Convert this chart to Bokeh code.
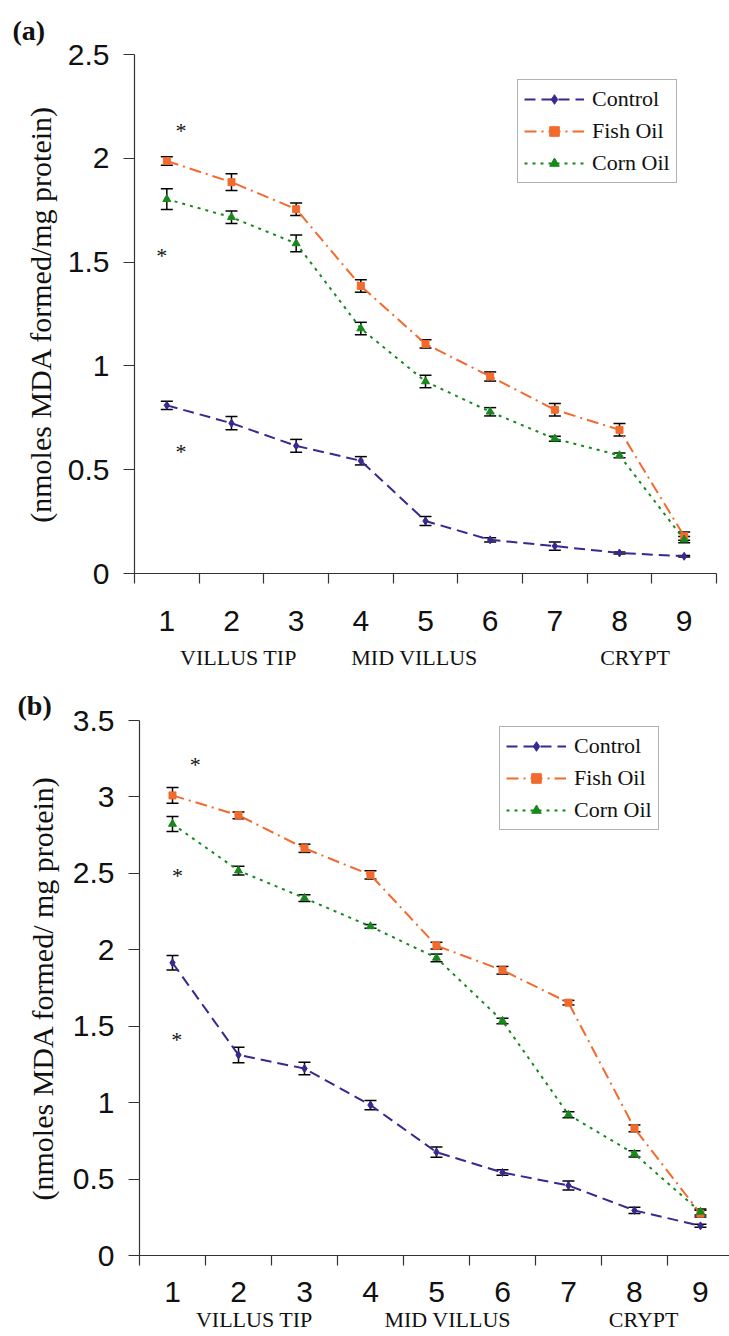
from bokeh.plotting import figure
from bokeh.models import (ColumnDataSource, Whisker, TeeHead, Label, Range1d,
                          FixedTicker, NumeralTickFormatter, Legend, LinearAxis)
from bokeh.embed import file_html
from bokeh.resources import INLINE

# ---------------- data ----------------
positions = [1, 2, 3, 4, 5, 6, 7, 8, 9]
series_names = ["Control", "Fish Oil", "Corn Oil"]

# panel (a)
a_control = [0.81, 0.724, 0.615, 0.543, 0.253, 0.162, 0.132, 0.099, 0.083]
a_control_err = [0.02, 0.032, 0.031, 0.02, 0.022, 0.01, 0.02, 0.005, 0.004]
a_fish = [1.987, 1.885, 1.755, 1.385, 1.106, 0.949, 0.789, 0.692, 0.18]
a_fish_err = [0.02, 0.04, 0.03, 0.03, 0.02, 0.022, 0.03, 0.03, 0.02]
a_corn = [1.803, 1.716, 1.59, 1.18, 0.925, 0.779, 0.649, 0.569, 0.163]
a_corn_err = [0.05, 0.03, 0.04, 0.03, 0.03, 0.02, 0.012, 0.012, 0.015]

# panel (b)
b_control = [1.915, 1.312, 1.223, 0.984, 0.676, 0.543, 0.458, 0.295, 0.194]
b_control_err = [0.048, 0.051, 0.041, 0.03, 0.033, 0.018, 0.03, 0.02, 0.01]
b_fish = [3.01, 2.88, 2.664, 2.49, 2.027, 1.866, 1.654, 0.832, 0.274]
b_fish_err = [0.052, 0.022, 0.027, 0.027, 0.022, 0.025, 0.015, 0.022, 0.022]
b_corn = [2.823, 2.518, 2.338, 2.153, 1.947, 1.534, 0.921, 0.665, 0.285]
b_corn_err = [0.049, 0.028, 0.022, 0.012, 0.025, 0.018, 0.02, 0.02, 0.02]

a_yticks = [0, 0.5, 1, 1.5, 2, 2.5]
b_yticks = [0, 0.5, 1, 1.5, 2, 2.5, 3, 3.5]
region_labels = ["VILLUS TIP", "MID VILLUS", "CRYPT"]
a_region_x = [2.107, 4.83, 8.24]
b_region_x = [2.24, 5.17, 8.14]

COLORS = ["#36298f", "#f26a2c", "#17891c"]
DASHES = ["11 6", "12 5 2 5", "3 5"]
MARKERS = ["diamond", "square", "triangle"]
MSIZES = [8, 7, 8]

SANS = "Liberation Sans"
SERIF = "Liberation Serif"


def make_panel(width, height, borders, x_end, y_end, yticks, values, errors,
               legend_loc, label_standoff, region_standoff, panel_tag, tag_offset,
               tag_standoff, ylabel, ylabel_standoff, region_x, stars):
    left, right, top, bottom = borders
    p = figure(width=width, height=height, output_backend="svg",
               toolbar_location=None, x_range=Range1d(0.5, x_end),
               y_range=Range1d(0, y_end),
               min_border_left=left, min_border_right=right,
               min_border_top=top, min_border_bottom=bottom)
    p.outline_line_color = None
    p.xgrid.visible = False
    p.ygrid.visible = False
    p.background_fill_color = "white"

    # panel tag via title
    p.title.text = panel_tag
    p.title.align = "left"
    p.title.offset = tag_offset
    p.title.standoff = tag_standoff
    p.title.text_font = SERIF
    p.title.text_font_style = "bold"
    p.title.text_font_size = "28px"
    p.title.text_color = "#111111"

    # x axis (positions)
    xa = p.xaxis[0]
    xa.ticker = FixedTicker(ticks=positions,
                            minor_ticks=[v - 0.5 for v in positions] + [positions[-1] + 0.5])
    xa.major_tick_out = 0
    xa.major_tick_in = 0
    xa.minor_tick_out = 10
    xa.minor_tick_in = 0
    xa.major_label_standoff = label_standoff
    xa.major_label_text_font = SANS
    xa.major_label_text_font_size = "30px"
    xa.major_label_text_color = "#111111"
    xa.axis_line_color = "#333333"
    xa.minor_tick_line_color = "#333333"
    xa.axis_line_width = 1.2
    xa.minor_tick_line_width = 1.2

    # second x axis: region names
    ra = LinearAxis(ticker=FixedTicker(ticks=region_x, minor_ticks=[]),
                    major_label_overrides={rx: t for rx, t in zip(region_x, region_labels)})
    ra.axis_line_color = None
    ra.major_tick_line_color = None
    ra.minor_tick_line_color = None
    ra.major_tick_out = 0
    ra.major_tick_in = 0
    ra.minor_tick_out = 0
    ra.major_label_standoff = region_standoff
    ra.major_label_text_font = SERIF
    ra.major_label_text_font_size = "22px"
    ra.major_label_text_color = "#111111"
    p.add_layout(ra, "below")

    # y axis
    ya = p.yaxis[0]
    ya.ticker = FixedTicker(ticks=yticks, minor_ticks=[])
    ya.formatter = NumeralTickFormatter(format="0.[0]")
    ya.major_tick_out = 11
    ya.major_tick_in = 0
    ya.minor_tick_out = 0
    ya.major_label_standoff = 14
    ya.major_label_text_font = SANS
    ya.major_label_text_font_size = "30px"
    ya.major_label_text_color = "#111111"
    ya.axis_line_color = "#333333"
    ya.major_tick_line_color = "#333333"
    ya.axis_line_width = 1.2
    ya.major_tick_line_width = 1.2
    ya.axis_label = ylabel
    ya.axis_label_text_font = SERIF
    ya.axis_label_text_font_size = "30px"
    ya.axis_label_text_font_style = "normal"
    ya.axis_label_text_color = "#111111"
    ya.axis_label_standoff = ylabel_standoff

    items = []
    for i, name in enumerate(series_names):
        src = ColumnDataSource(dict(x=positions, y=values[i],
                                    lo=[v - e for v, e in zip(values[i], errors[i])],
                                    hi=[v + e for v, e in zip(values[i], errors[i])]))
        r1 = p.line("x", "y", source=src, line_color=COLORS[i], line_width=2,
                    line_dash=DASHES[i])
        r2 = p.scatter("x", "y", source=src, marker=MARKERS[i], size=MSIZES[i],
                       fill_color=COLORS[i], line_color=COLORS[i])
        w = Whisker(base="x", upper="hi", lower="lo", source=src,
                    line_color="black", line_width=1.5,
                    upper_head=TeeHead(size=12, line_color="black", line_width=1.5),
                    lower_head=TeeHead(size=12, line_color="black", line_width=1.5))
        p.add_layout(w)
        items.append((name, [r1, r2]))

    legend = Legend(items=items, location=legend_loc, orientation="vertical")
    legend.label_text_font = SERIF
    legend.label_text_font_size = "22px"
    legend.label_text_color = "#111111"
    legend.glyph_width = 60
    legend.glyph_height = 24
    legend.label_height = 24
    legend.label_standoff = 8
    legend.spacing = 6
    legend.padding = 6
    legend.margin = 0
    legend.border_line_color = "#666666"
    legend.border_line_width = 1.5
    legend.background_fill_color = "white"
    legend.background_fill_alpha = 1.0
    p.add_layout(legend)

    # significance asterisks
    for sx, sy in stars:
        p.add_layout(Label(x=sx, y=sy, text="*", text_font=SERIF,
                           text_font_size="22px", text_align="center",
                           text_baseline="middle", text_color="#111111"))
    return p


pa = make_panel(
    width=729, height=672, borders=(134, 13, 54, 98), x_end=9.5, y_end=2.5,
    yticks=a_yticks,
    values=[a_control, a_fish, a_corn], errors=[a_control_err, a_fish_err, a_corn_err],
    legend_loc=(383, 390), label_standoff=27, region_standoff=11,
    panel_tag="(a)", tag_offset=-122, tag_standoff=18,
    ylabel="(nmoles MDA formed/mg protein)", ylabel_standoff=8,
    region_x=a_region_x,
    stars=[(1.22, 2.135), (0.92, 1.534), (1.22, 0.587)])

pb = make_panel(
    width=729, height=662, borders=(139, 0, 48, 77), x_end=9.44, y_end=3.5,
    yticks=b_yticks,
    values=[b_control, b_fish, b_corn], errors=[b_control_err, b_fish_err, b_corn_err],
    legend_loc=(360, 425), label_standoff=16, region_standoff=2,
    panel_tag="(b)", tag_offset=-122, tag_standoff=0,
    ylabel="(nmoles MDA formed/ mg protein)", ylabel_standoff=11,
    region_x=b_region_x,
    stars=[(1.345, 3.214), (1.075, 2.484), (1.065, 1.415)])

# two independent roots, stacked on the page (no frame alignment between them)
open("out.html", "w").write(file_html([pa, pb], INLINE))
